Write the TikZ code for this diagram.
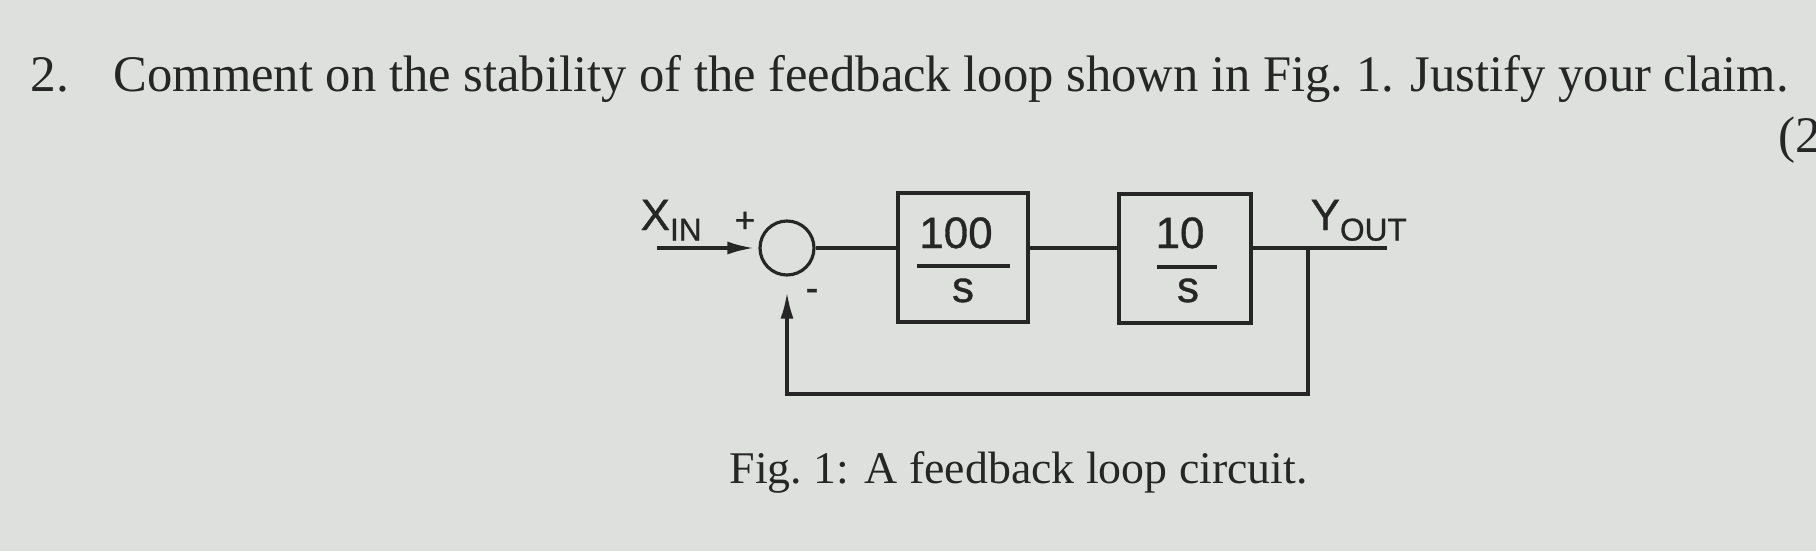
\documentclass[tikz,border=0pt]{standalone}
\usepackage{graphicx}
\usepackage{fontspec}
\setmainfont{Liberation Serif}
\newfontfamily\diagfont[FakeBold=0.8]{Liberation Sans}
\usetikzlibrary{arrows.meta}

\definecolor{paper}{RGB}{222,224,222}
\definecolor{ink}{RGB}{38,38,38}

% lowered subscript for the signal names
\newcommand{\lowsub}[1]{\raisebox{-3pt}{\fontsize{9}{9}\selectfont #1}}

\tikzset{
	wire/.style={draw=ink, line width=1pt},
	sig/.style={wire, -{Latex[length=2.7mm,width=1.3mm]}},
	block/.style={draw=ink, line width=1pt, minimum height=1.29cm, inner sep=0pt},
	lbl/.style={text=ink, font=\diagfont\fontsize{12.5}{14}\selectfont, inner sep=0pt},
	serif/.style={text=ink, inner sep=0pt},
}

\begin{document}
\begin{tikzpicture}
	% paper
	\clip (0,0) rectangle (18.16,-5.51);
	\fill[paper] (0,0) rectangle (18.16,-5.51);
	
	% question
	\node[serif, anchor=base west] (qnum) at (0.30,-0.915) {\fontsize{14.6}{17}\selectfont 2.};
	\node[serif, anchor=base west] (qtext) at (1.13,-0.915) {\resizebox{16.75cm}{\height}{\fontsize{14.6}{17}\selectfont Comment on the stability of the feedback loop shown in Fig.~1. Justify your claim.}};
	\node[serif, anchor=base west] (marks) at (17.78,-1.52) {\fontsize{14.6}{17}\selectfont (2};
	
	% summing junction
	\node[circle, draw=ink, line width=0.9pt, minimum size=0.54cm, inner sep=0pt] (sum) at (7.87,-2.48) {};
	\node[lbl, anchor=base west] (xlabel) at (6.40,-2.30) {X\lowsub{IN}};
	\node[lbl, font=\diagfont\fontsize{10}{10}\selectfont] (plus) at (7.45,-2.22) {+};
	\node[lbl, font=\diagfont\fontsize{11}{11}\selectfont] (minus) at (8.12,-2.95) {-};
	
	% block 1
	\node[block, minimum width=1.30cm] (g1) at (9.63,-2.575) {};
	\node[lbl, anchor=base] (num1) at (9.56,-2.48) {100};
	\draw[wire] (9.17,-2.66) -- (10.10,-2.66);
	\node[lbl, anchor=base] (den1) at (9.63,-3.02) {s};
	
	% block 2
	\node[block, minimum width=1.32cm] (g2) at (11.85,-2.585) {};
	\node[lbl, anchor=base] (num2) at (11.80,-2.48) {10};
	\draw[wire] (11.57,-2.67) -- (12.17,-2.67);
	\node[lbl, anchor=base] (den2) at (11.88,-3.02) {s};
	
	% output
	\node[lbl, anchor=base west] (ylabel) at (13.10,-2.30) {Y\lowsub{OUT}};
	\coordinate (xin) at (6.57,-2.48);
	\coordinate (tap) at (13.08,-2.48);
	\coordinate (yout) at (13.87,-2.48);
	\coordinate (fb) at (13.08,-3.94);
	
	% signal path
	\draw[sig, shorten >=0.4mm] (xin) -- (sum.west);
	\draw[wire] (sum.east) -- (g1.west |- sum.east);
	\draw[wire] (g1.east |- sum.east) -- (g2.west |- sum.east);
	\draw[wire] (g2.east |- sum.east) -- (yout);
	\draw[sig, shorten >=1.5mm] (tap) -- (fb) -| (sum.south);
	
	% caption
	\node[serif, anchor=base west] (caption) at (7.29,-4.83) {\resizebox{5.78cm}{\height}{\fontsize{12.9}{15}\selectfont Fig.~1: A feedback loop circuit.}};
\end{tikzpicture}
\end{document}
